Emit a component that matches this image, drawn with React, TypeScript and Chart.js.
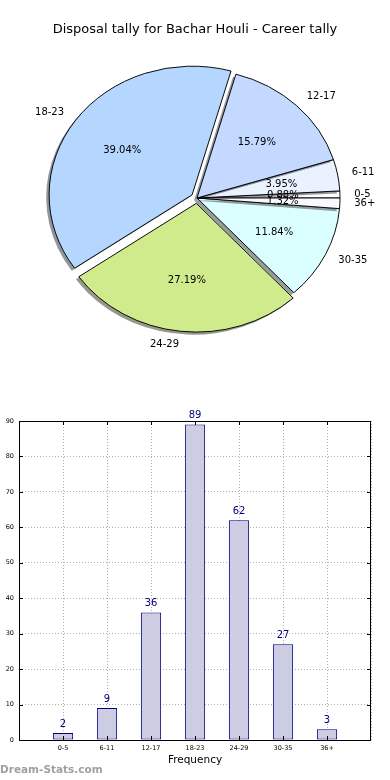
import React, { useEffect, useRef } from 'react';
import { Chart, registerables } from 'chart.js';

Chart.register(...registerables);

// ---------- data ----------
const TITLE = 'Disposal tally for Bachar Houli - Career tally';
const categories = ['0-5', '6-11', '12-17', '18-23', '24-29', '30-35', '36+'];
const counts = [2, 9, 36, 89, 62, 27, 3];
const sliceColors = ['#ffffff', '#eaf1ff', '#c4d9ff', '#b4d6ff', '#d0eb8b', '#dbffff', '#f8f8ff'];
const explode = [0, 0, 0, 0.042, 0.042, 0, 0];
const X_TITLE = 'Frequency';
const WATERMARK = 'Dream-Stats.com';
const Y_MIN = 0;
const Y_MAX = 90;
const Y_STEP = 10;

// ---------- style ----------
const FONT = "'DejaVu Sans', 'Liberation Sans', sans-serif";
const PIE_RADIUS = 143;
const PIE_ASPECT = 0.9;
const SHADOW_DX = -2.9;
const SHADOW_DY = 2.9;
const BAR_FILL = '#ccccE2';
const BAR_EDGE = '#000080';

function shadowOf(hex: string): string {
  const h = hex.replace('#', '');
  const r = parseInt(h.slice(0, 2), 16);
  const g = parseInt(h.slice(2, 4), 16);
  const b = parseInt(h.slice(4, 6), 16);
  return `rgba(${Math.round(r * 0.3)},${Math.round(g * 0.3)},${Math.round(b * 0.3)},0.55)`;
}

const total = counts.reduce((a, b) => a + b, 0);

// Pie in Chart.js runs clockwise; matplotlib runs counter-clockwise from east.
const revLabels = [...categories].reverse();
const revCounts = [...counts].reverse();
const revColors = [...sliceColors].reverse();
const revExplode = [...explode].reverse();

const piePlugin = {
  id: 'mplPie',
  beforeDatasetsDraw(chart: any) {
    const ctx = chart.ctx as CanvasRenderingContext2D;
    const arcs = chart.getDatasetMeta(0).data as any[];
    if (!arcs.length) return false;
    const cx = arcs[0].x;
    const cy = arcs[0].y;
    ctx.save();
    ctx.translate(cx, cy);
    ctx.scale(1, PIE_ASPECT);
    ctx.translate(-cx, -cy);
    for (let i = arcs.length - 1; i >= 0; i--) {
      const a = arcs[i];
      const mid = (a.startAngle + a.endAngle) / 2;
      const off = revExplode[i] * PIE_RADIUS;
      const ox = Math.cos(mid) * off;
      const oy = Math.sin(mid) * off;
      // shadow
      ctx.beginPath();
      const sx = a.x + ox + SHADOW_DX;
      const sy = a.y + oy + SHADOW_DY;
      ctx.moveTo(sx, sy);
      ctx.arc(sx, sy, a.outerRadius, a.startAngle, a.endAngle);
      ctx.closePath();
      ctx.fillStyle = shadowOf(revColors[i]);
      ctx.fill();
      // wedge
      ctx.save();
      ctx.translate(ox, oy);
      a.draw(ctx);
      ctx.restore();
    }
    ctx.restore();
    return false;
  },
  afterDraw(chart: any) {
    const ctx = chart.ctx as CanvasRenderingContext2D;
    const arcs = chart.getDatasetMeta(0).data as any[];
    ctx.save();
    ctx.fillStyle = '#000';
    ctx.font = `13px ${FONT}`;
    ctx.textAlign = 'center';
    ctx.textBaseline = 'middle';
    ctx.fillText(TITLE, 195, 30);
    ctx.font = `10px ${FONT}`;
    for (let i = 0; i < arcs.length; i++) {
      const a = arcs[i];
      const cx = a.x;
      const cy = a.y;
      const mid = (a.startAngle + a.endAngle) / 2;
      const off = revExplode[i] * PIE_RADIUS;
      const c = Math.cos(mid);
      const s = Math.sin(mid);
      const lx = cx + c * (off + 1.1 * PIE_RADIUS);
      const ly = cy + s * (off + 1.1 * PIE_RADIUS) * PIE_ASPECT;
      ctx.textAlign = lx < cx ? 'right' : 'left';
      ctx.fillText(revLabels[i], lx, ly);
      const px = cx + c * (off + 0.6 * PIE_RADIUS);
      const py = cy + s * (off + 0.6 * PIE_RADIUS) * PIE_ASPECT;
      ctx.textAlign = 'center';
      ctx.fillText(((revCounts[i] / total) * 100).toFixed(2) + '%', px, py);
    }
    ctx.restore();
  },
};

const barPlugin = {
  id: 'mplBar',
  afterDraw(chart: any) {
    const ctx = chart.ctx as CanvasRenderingContext2D;
    const { left, right, top, bottom } = chart.chartArea;
    const ys = chart.scales.y;
    const xs = chart.scales.x;
    ctx.save();
    // inward tick marks
    ctx.strokeStyle = '#000';
    ctx.lineWidth = 1;
    ctx.beginPath();
    for (let v = Y_MIN; v <= Y_MAX; v += Y_STEP) {
      const y = Math.round(ys.getPixelForValue(v)) + 0.5;
      ctx.moveTo(left, y);
      ctx.lineTo(left + 4, y);
      ctx.moveTo(right - 4, y);
      ctx.lineTo(right, y);
    }
    for (let i = 0; i < categories.length; i++) {
      const x = Math.round(xs.getPixelForValue(i + 1)) + 0.5;
      ctx.moveTo(x, bottom);
      ctx.lineTo(x, bottom - 4);
      ctx.moveTo(x, top);
      ctx.lineTo(x, top + 4);
    }
    ctx.stroke();
    // frame
    ctx.strokeRect(Math.round(left) + 0.5, Math.round(top) + 0.5, Math.round(right - left) - 1, Math.round(bottom - top));
    // value labels
    const bars = chart.getDatasetMeta(0).data as any[];
    ctx.fillStyle = BAR_EDGE;
    ctx.font = `10px ${FONT}`;
    ctx.textAlign = 'center';
    ctx.textBaseline = 'middle';
    bars.forEach((b, i) => {
      ctx.fillText(String(counts[i]), b.x, b.y - 9);
    });
    // axis title
    ctx.fillStyle = '#000';
    ctx.font = `10.5px ${FONT}`;
    ctx.fillText(X_TITLE, (left + right) / 2, 360);
    // watermark
    ctx.fillStyle = '#a0a0a0';
    ctx.font = `bold 10.5px ${FONT}`;
    ctx.textAlign = 'left';
    ctx.fillText(WATERMARK, 0, 370);
    ctx.restore();
  },
};

export default function App() {
  const pieRef = useRef<HTMLCanvasElement>(null);
  const barRef = useRef<HTMLCanvasElement>(null);

  useEffect(() => {
    const pie = new Chart(pieRef.current as HTMLCanvasElement, {
      type: 'pie',
      data: {
        labels: revLabels,
        datasets: [
          {
            data: revCounts,
            backgroundColor: revColors,
            borderColor: '#000',
            borderWidth: 1,
            hoverOffset: 0,
          },
        ],
      },
      options: {
        animation: false,
        responsive: false,
        events: [],
        rotation: 90,
        radius: PIE_RADIUS,
        layout: { padding: { left: 4, right: 0, top: 0, bottom: 4 } },
        plugins: { legend: { display: false }, tooltip: { enabled: false }, title: { display: false } },
      } as any,
      plugins: [piePlugin],
    });

    const bar = new Chart(barRef.current as HTMLCanvasElement, {
      type: 'bar',
      data: {
        datasets: [
          {
            data: counts.map((v, i) => ({ x: i + 1, y: v })),
            backgroundColor: BAR_FILL,
            borderColor: BAR_EDGE,
            borderWidth: 1,
            borderSkipped: false,
            categoryPercentage: 1,
            barPercentage: 0.46,
          },
        ],
      },
      options: {
        animation: false,
        responsive: false,
        events: [],
        layout: { padding: { left: 0, right: 19, top: 21, bottom: 0 } },
        plugins: { legend: { display: false }, tooltip: { enabled: false } },
        scales: {
          x: {
            type: 'linear',
            min: 0,
            max: 8,
            offset: false,
            z: 1,
            ticks: {
              stepSize: 1,
              autoSkip: false,
              maxRotation: 0,
              padding: 4,
              color: '#000',
              font: { family: FONT, size: 6.5 },
              callback: (v: any) => categories[Number(v) - 1] ?? '',
            },
            grid: { color: '#b0b0b0', lineWidth: 1, drawTicks: false, offset: false },
            border: { display: false, dash: [1, 2] },
            afterFit: (s: any) => {
              s.height = 40;
            },
          },
          y: {
            min: Y_MIN,
            max: Y_MAX,
            z: 1,
            ticks: {
              stepSize: Y_STEP,
              padding: 5,
              color: '#000',
              font: { family: FONT, size: 6.5 },
            },
            grid: { color: '#b0b0b0', lineWidth: 1, drawTicks: false },
            border: { display: false, dash: [1, 2] },
            afterFit: (s: any) => {
              s.width = 19;
            },
          },
        },
      } as any,
      plugins: [barPlugin],
    });

    return () => {
      pie.destroy();
      bar.destroy();
    };
  }, []);

  return (
    <div style={{ position: 'absolute', left: 0, top: 0, width: 390, height: 780, background: '#fff' }}>
      <canvas ref={pieRef} width={390} height={400} style={{ position: 'absolute', left: 0, top: 0 }} />
      <canvas ref={barRef} width={390} height={380} style={{ position: 'absolute', left: 0, top: 400 }} />
    </div>
  );
}
